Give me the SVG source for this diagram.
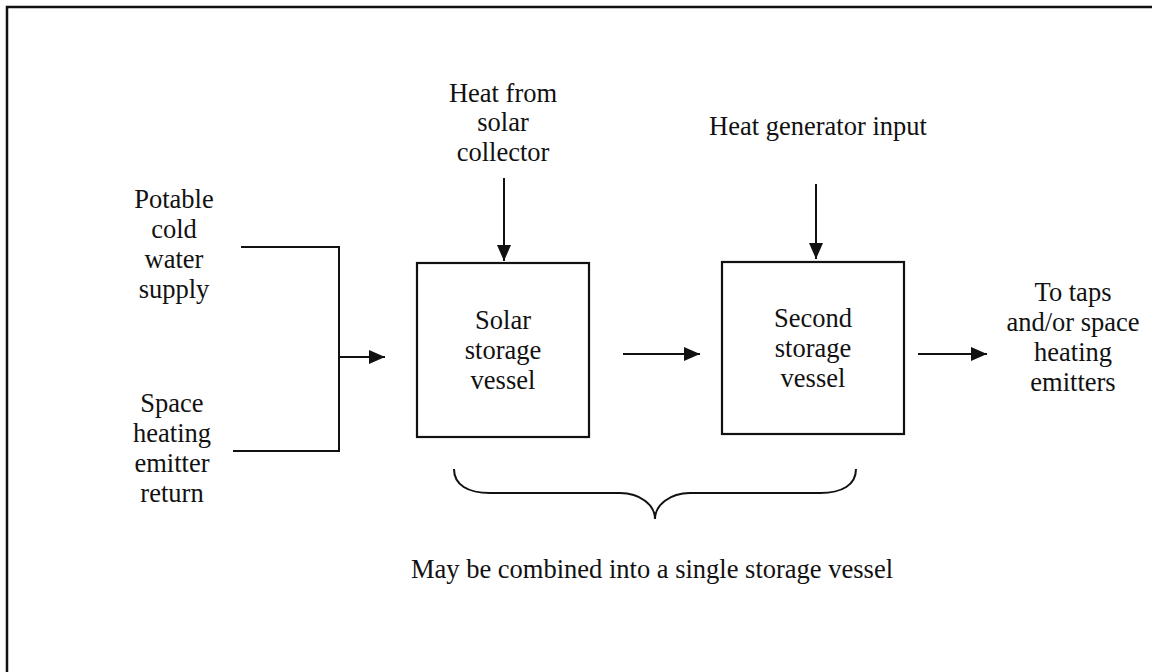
<svg xmlns="http://www.w3.org/2000/svg" width="1152" height="672" viewBox="0 0 1152 672">
<style>
text{font-family:"Liberation Serif","Times New Roman",serif;font-size:26.5px;fill:#111;text-anchor:middle}
.box{fill:#fff;stroke:#111;stroke-width:2.2}
.ln{fill:none;stroke:#111;stroke-width:2}
</style>
<defs>
<marker id="ah" viewBox="0 0 16 14" refX="16" refY="7" markerWidth="16" markerHeight="14" markerUnits="userSpaceOnUse" orient="auto">
<path d="M0,0 L16,7 L0,14 Z" fill="#111"/>
</marker>
</defs>
<rect x="0" y="0" width="1152" height="672" fill="#fff"/>
<rect x="7" y="7" width="1200" height="720" fill="none" stroke="#111" stroke-width="2.5"/>

<g id="connectors">
<path class="ln" d="M241,247 H339 V451 H233"/>
<line class="ln" x1="339" y1="357" x2="385" y2="357" marker-end="url(#ah)"/>
<line class="ln" x1="504" y1="178" x2="504" y2="261" marker-end="url(#ah)"/>
<line class="ln" x1="816" y1="184" x2="816" y2="259" marker-end="url(#ah)"/>
<line class="ln" x1="623" y1="354" x2="700" y2="354" marker-end="url(#ah)"/>
<line class="ln" x1="918" y1="354" x2="987" y2="354" marker-end="url(#ah)"/>
<path class="ln" d="M454,469 C454,485 468,493 490,493 L620,493 C640,493 655,505 655,519 C655,505 670,493 690,493 L820,493 C842,493 856,485 856,469"/>
</g>

<g id="potable">
<text x="174" y="208">Potable</text>
<text x="174" y="238">cold</text>
<text x="174" y="268">water</text>
<text x="174" y="298">supply</text>
</g>
<g id="return">
<text x="172" y="412">Space</text>
<text x="172" y="442">heating</text>
<text x="172" y="472">emitter</text>
<text x="172" y="502">return</text>
</g>
<g id="solar-heat">
<text x="503" y="102">Heat from</text>
<text x="503" y="131">solar</text>
<text x="503" y="161">collector</text>
</g>
<g id="generator">
<text x="818" y="135">Heat generator input</text>
</g>
<g id="solar-vessel">
<rect class="box" x="417" y="263" width="172" height="174"/>
<text x="503" y="329">Solar</text>
<text x="503" y="359">storage</text>
<text x="503" y="389">vessel</text>
</g>
<g id="second-vessel">
<rect class="box" x="722" y="262" width="182" height="172"/>
<text x="813" y="327">Second</text>
<text x="813" y="357">storage</text>
<text x="813" y="387">vessel</text>
</g>
<g id="taps">
<text x="1073" y="301">To taps</text>
<text x="1073" y="331">and/or space</text>
<text x="1073" y="361">heating</text>
<text x="1073" y="391">emitters</text>
</g>
<g id="note">
<text x="652" y="578">May be combined into a single storage vessel</text>
</g>
</svg>
